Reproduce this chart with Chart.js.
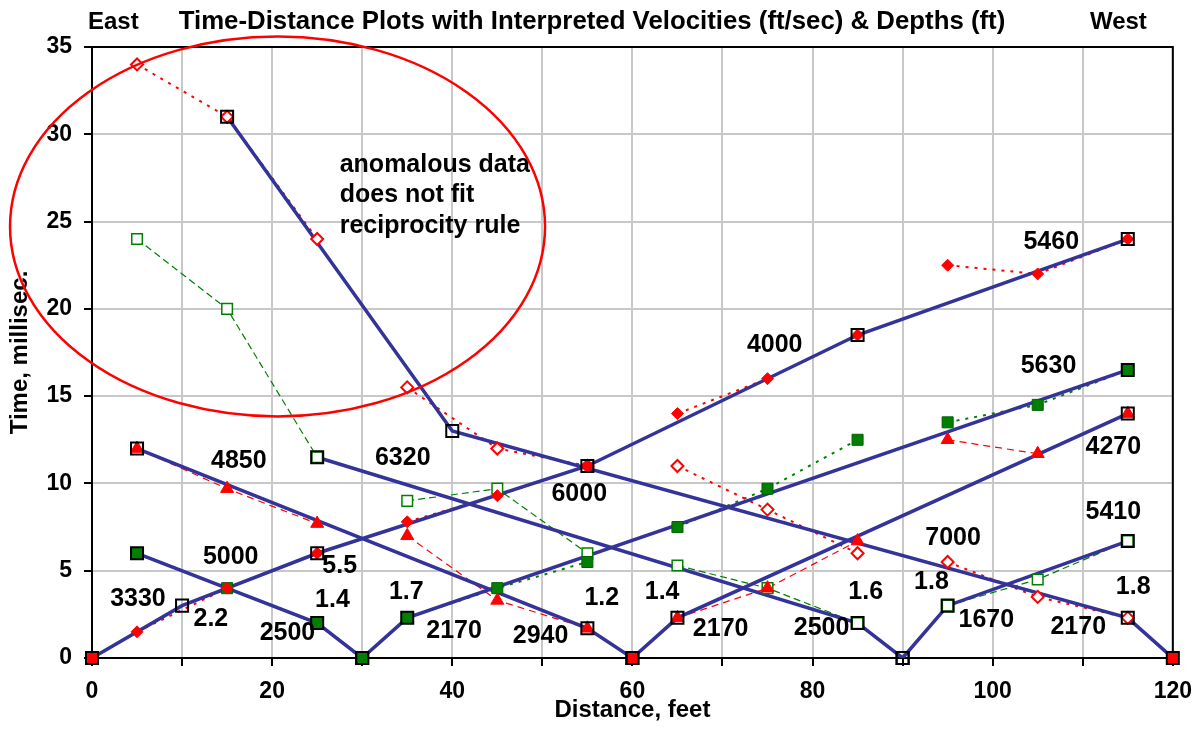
<!DOCTYPE html>
<html>
<head>
<meta charset="utf-8">
<script src="https://cdn.jsdelivr.net/npm/chart.js@4.4.1/dist/chart.umd.min.js"></script>
<style>
  html, body { margin: 0; padding: 0; background: #fff; }
  #wrap { width: 1204px; height: 751px; }
</style>
</head>
<body>
<div id="wrap"><canvas id="tdPlot" width="1204" height="751"></canvas></div>
<script>
// geophone positions (ft), 3 per group between shot points
const geoX = [5, 15, 25, 35, 45, 55, 65, 75, 85, 95, 105, 115];

// first-arrival times (ms) per shot point
const shot0T = [1.5, 4, 6, 7.8, 9.3, 11, 14, 16, 18.5, 22.5, 22, 24];
const shot120T = [34, 31, 24, 15.5, 12, 11, 11, 8.5, 6, 5.5, 3.5, 2.3];
const shot60T = [12, 9.7, 7.7, 7, 3.3, 1.7, 2.3, 4, 6.7, 12.5, 11.7, 14];
const shot30T = [6, 4, 2, 2.3, 4, 5.5, 7.5, 9.7, 12.5, 13.5, 14.5, 16.5];
const shot90T = [24, 20, 11.5, 9, 9.7, 6, 5.3, 4, 2, 3, 4.5, 6.7];

// shot locations
const redShotX = [0, 60, 120];
const redShotT = [0, 0, 0];
const greenShotX = [30];
const greenShotT = [0];

// interpreted (fitted) segments: break points
const fit0X = [0, 10, 25, 55, 85, 115];
const fit0T = [0, 3, 6, 11, 18.5, 24];
const fit120X = [120, 115, 40, 15];
const fit120T = [0, 2.3, 13, 31];
const fit30FX = [30, 35, 115];
const fit30FT = [0, 2.3, 16.5];
const fit30RX = [30, 25, 5];
const fit30RT = [0, 2, 6];
const fit60RX = [60, 55, 5];
const fit60RT = [0, 1.7, 12];
const fit60FX = [60, 65, 115];
const fit60FT = [0, 2.3, 14];
const fit90RX = [90, 85, 25];
const fit90RT = [0, 2, 11.5];
const fit90FX = [90, 95, 115];
const fit90FT = [0, 3, 6.7];

// velocity / depth labels [text, x, t]
const notes = [
  ['3330', 5.1, 3.38], ['2.2', 13.2, 2.23], ['5000', 15.4, 5.79], ['4850', 16.3, 11.28],
  ['5.5', 27.5, 5.27], ['1.4', 26.7, 3.32], ['2500', 21.7, 1.43], ['6320', 34.5, 11.46],
  ['1.7', 34.9, 3.78], ['2170', 40.2, 1.55], ['6000', 54.1, 9.39], ['1.2', 56.6, 3.44],
  ['2940', 49.8, 1.26], ['1.4', 63.3, 3.78], ['2170', 69.8, 1.66], ['4000', 75.8, 17.93],
  ['2500', 81.0, 1.72], ['1.6', 85.9, 3.78], ['5460', 106.5, 23.83], ['5630', 106.2, 16.73],
  ['4270', 113.4, 12.09], ['7000', 95.6, 6.87], ['1.8', 93.2, 4.35], ['5410', 113.4, 8.36],
  ['1670', 99.3, 2.18], ['2170', 109.5, 1.78], ['1.8', 115.6, 4.07]
];
const anomalyText = ['anomalous data', 'does not fit', 'reciprocity rule'];

const RED = '#ff0000', GREEN = '#008000', BLUE = '#333399';
const FONT = '"Liberation Sans", Arial, sans-serif';

function pts(xs, ts) { return xs.map((x, i) => ({ x: x, y: ts[i] })); }
// split a shot record into its 3-geophone groups (no line across a shot point)
function groups(ts) {
  const out = [];
  for (let i = 0; i < geoX.length; i += 3) out.push(pts(geoX.slice(i, i + 3), ts.slice(i, i + 3)));
  return out;
}

function marks(data, style, radius, fill, stroke, bw) {
  return { data: data, showLine: false, clip: false, pointStyle: style, pointRadius: radius, pointHoverRadius: radius,
    pointBackgroundColor: fill, pointBorderColor: stroke, pointBorderWidth: bw };
}
function trace(data, color, width, dash) {
  return { data: data, showLine: true, pointRadius: 0, pointHoverRadius: 0, borderColor: color,
    borderWidth: width, borderDash: dash, fill: false, tension: 0 };
}

const fits = [
  pts(fit0X, fit0T), pts(fit120X, fit120T), pts(fit30FX, fit30FT), pts(fit30RX, fit30RT),
  pts(fit60RX, fit60RT), pts(fit60FX, fit60FT), pts(fit90RX, fit90RT), pts(fit90FX, fit90FT)
];

const redFull = groups(shot0T);
const redOpen = groups(shot120T);
const redTri = groups(shot60T);
const greenFull = groups(shot30T);
const greenOpen = groups(shot90T);

const datasets = [];
// top layer: break point squares
fits.forEach(d => datasets.push(marks(d, 'rect', 8.5, 'rgba(0,0,0,0)', '#000', 2)));
// data markers
redFull.forEach(d => datasets.push(marks(d, 'rectRot', 6, RED, RED, 1)));
redOpen.forEach(d => datasets.push(marks(d, 'rectRot', 6, '#fff', RED, 2)));
redTri.forEach(d => datasets.push(marks(d, 'triangle', 7.5, RED, RED, 1)));
greenFull.forEach(d => datasets.push(marks(d, 'rect', 7.8, GREEN, '#006000', 1)));
greenOpen.forEach(d => datasets.push(marks(d, 'rect', 7.5, '#fff', GREEN, 1.5)));
datasets.push(marks(pts(redShotX, redShotT), 'rect', 7, RED, RED, 1));
datasets.push(marks(pts(greenShotX, greenShotT), 'rect', 7, GREEN, GREEN, 1));
// fitted lines
fits.forEach(d => datasets.push(trace(d, BLUE, 3.5, [])));
// data traces
redFull.forEach(d => datasets.push(trace(d, RED, 2, [3, 6])));
redOpen.forEach(d => datasets.push(trace(d, RED, 2, [3, 6])));
redTri.forEach(d => datasets.push(trace(d, RED, 1.2, [7, 5])));
greenFull.forEach(d => datasets.push(trace(d, GREEN, 2, [3, 6])));
greenOpen.forEach(d => datasets.push(trace(d, GREEN, 1.2, [7, 4])));

const decor = {
  id: 'decor',
  beforeDatasetsDraw(chart) {
    const { ctx, chartArea: a } = chart;
    ctx.save();
    ctx.strokeStyle = '#000';
    ctx.lineWidth = 2;
    ctx.beginPath();
    ctx.moveTo(a.left, a.top); ctx.lineTo(a.right, a.top); ctx.lineTo(a.right, a.bottom);
    ctx.stroke();
    ctx.restore();
  },
  afterDraw(chart) {
    const { ctx, chartArea: a, scales: { x, y } } = chart;
    ctx.save();
    ctx.fillStyle = '#000';
    ctx.textBaseline = 'middle';
    ctx.font = 'bold 24px ' + FONT;
    ctx.textAlign = 'left';
    ctx.fillText('East', a.left - 4, 22);
    ctx.textAlign = 'right';
    ctx.fillText('West', a.right - 26, 22);
    ctx.font = 'bold 25.8px ' + FONT;
    ctx.textAlign = 'center';
    ctx.fillText('Time-Distance Plots with Interpreted Velocities (ft/sec) & Depths (ft)', a.left + 500, 22);

    ctx.font = 'bold 25px ' + FONT;
    notes.forEach(n => ctx.fillText(n[0], x.getPixelForValue(n[1]), y.getPixelForValue(n[2])));

    ctx.textAlign = 'left';
    const ax = x.getPixelForValue(27.5), ay = y.getPixelForValue(28.24);
    anomalyText.forEach((s, i) => ctx.fillText(s, ax, ay + i * 30.5));

    // circle round the anomalous data
    const cx = x.getPixelForValue(20.6), cy = y.getPixelForValue(24.72);
    const rx = x.getPixelForValue(20.6 + 29.7) - cx, ry = cy - y.getPixelForValue(24.72 + 10.88);
    ctx.strokeStyle = RED;
    ctx.lineWidth = 2.5;
    ctx.beginPath();
    ctx.ellipse(cx, cy, rx, ry, 0, 0, Math.PI * 2);
    ctx.stroke();
    ctx.restore();
  }
};

const tickFont = { family: FONT, size: 23, weight: 'bold' };
const titleFont = { family: FONT, size: 24, weight: 'bold' };

new Chart(document.getElementById('tdPlot'), {
  type: 'scatter',
  data: { datasets: datasets },
  options: {
    responsive: false,
    animation: false,
    devicePixelRatio: 1,
    layout: { padding: { top: 47, right: 29, left: 0, bottom: 0 } },
    plugins: { legend: { display: false }, tooltip: { enabled: false } },
    scales: {
      x: {
        type: 'linear', min: 0, max: 120,
        ticks: { stepSize: 10, autoSkip: false, maxRotation: 0, color: '#000', font: tickFont, padding: 12,
          callback: v => (v % 20 === 0 ? v : '') },
        grid: { color: '#c8c8c8', lineWidth: 2, tickColor: '#000', tickLength: 8 },
        border: { color: '#000', width: 2 },
        title: { display: true, text: 'Distance, feet', color: '#000', font: titleFont, padding: { top: 0, bottom: 26 } },
        afterFit(s) { s.height = 93; }
      },
      y: {
        type: 'linear', min: 0, max: 35,
        ticks: { stepSize: 5, color: '#000', font: tickFont, padding: 12 },
        grid: { color: '#c8c8c8', lineWidth: 2, tickColor: '#000', tickLength: 8 },
        border: { color: '#000', width: 2 },
        title: { display: true, text: 'Time, millisec.', color: '#000', font: titleFont, padding: { top: 6, bottom: 0 } },
        afterFit(s) { s.width = 92; }
      }
    }
  },
  plugins: [decor]
});
</script>
</body>
</html>
